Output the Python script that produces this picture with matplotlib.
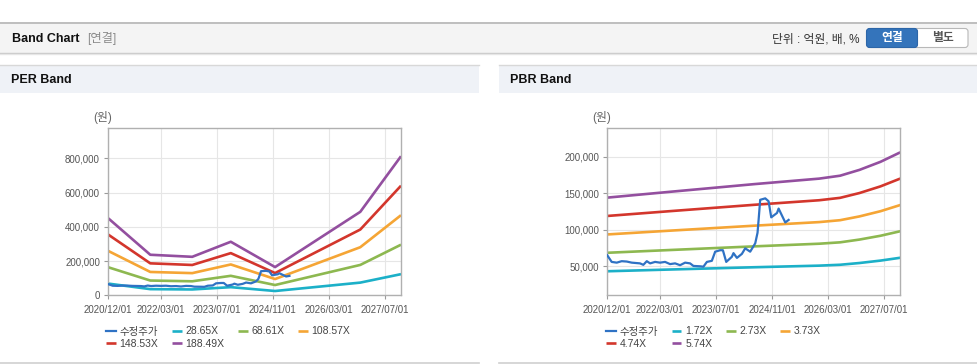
import matplotlib
matplotlib.use('Agg')
import matplotlib.pyplot as plt
import matplotlib.dates as mdates
from matplotlib.patches import Rectangle, FancyBboxPatch
import pandas as pd

plt.rcParams['font.family'] = ['Liberation Sans', 'Noto Sans CJK KR', 'DejaVu Sans']

# ---------------- data ----------------
price_dates = ['2020-12-01', '2021-01-08', '2021-02-21', '2021-04-05', '2021-05-19', '2021-07-01',
               '2021-09-11', '2021-10-10', '2021-11-09', '2021-12-08', '2022-01-20', '2022-03-04',
               '2022-04-17', '2022-05-30', '2022-07-13', '2022-08-25', '2022-10-08', '2022-11-20',
               '2022-12-19', '2023-02-15', '2023-03-16', '2023-04-15', '2023-05-28', '2023-06-26',
               '2023-08-08', '2023-09-01', '2023-09-30', '2023-11-18', '2023-12-02', '2024-01-01',
               '2024-02-13', '2024-03-13', '2024-04-25', '2024-06-08', '2024-06-28', '2024-07-07',
               '2024-07-21', '2024-09-03', '2024-10-02', '2024-10-25', '2024-12-14', '2024-12-28',
               '2025-02-24', '2025-03-25']
price_values = [65000, 56000, 55000, 57000, 56500, 55000,
                54000, 52000, 57000, 54000, 56000, 55000,
                56000, 53000, 54000, 51500, 55000, 54000,
                50500, 50000, 49500, 56000, 57500, 70000,
                72000, 72000, 56000, 63000, 68000, 61500,
                67000, 74600, 70000, 81500, 96000, 113000,
                141000, 143000, 139000, 117000, 123000, 129000,
                110000, 113500]

per_dates = ['2020-12-01', '2021-12-01', '2022-12-01', '2023-11-01', '2024-11-20', '2026-12-01', '2027-11-20']
per_28_65 = [68400, 36000, 34200, 47600, 25100, 74200, 123600]
per_68_61 = [163800, 86300, 81900, 113900, 60100, 177600, 295900]
per_108_57 = [259200, 136500, 129600, 180300, 95000, 281100, 468300]
per_148_53 = [354600, 186800, 177300, 246600, 130000, 384500, 640600]
per_188_49 = [450000, 237000, 225000, 313000, 165000, 488000, 813000]
per_labels = ['28.65X', '68.61X', '108.57X', '148.53X', '188.49X']

pbr_dates = ['2020-12-01', '2022-06-01', '2024-06-01', '2025-12-15', '2026-06-15', '2026-12-01', '2027-06-01', '2027-11-20']
pbr_1_72 = [43200, 45600, 48700, 50900, 52100, 54500, 57800, 61700]
pbr_2_73 = [68500, 72300, 77300, 80900, 82800, 86600, 91800, 98000]
pbr_3_73 = [93600, 98800, 105600, 110500, 113100, 118300, 125400, 133900]
pbr_4_74 = [118900, 125500, 134200, 140400, 143700, 150300, 159400, 170100]
pbr_5_74 = [144000, 152000, 162500, 170000, 174000, 182000, 193000, 206000]
pbr_labels = ['1.72X', '2.73X', '3.73X', '4.74X', '5.74X']

tick_dates = ['2020-12-01', '2022-03-01', '2023-07-01', '2024-11-01', '2026-03-01', '2027-07-01']
tick_labels = ['2020/12/01', '2022/03/01', '2023/07/01', '2024/11/01', '2026/03/01', '2027/07/01']

per_yticks = [0, 200000, 400000, 600000, 800000]
pbr_yticks = [50000, 100000, 150000, 200000]

price_label = '수정주가'
price_color = '#2f72c4'
band_colors = ['#1cb0c8', '#8db850', '#f5a535', '#d3362c', '#934f9f']

# ---------------- figure ----------------
W, H = 978, 364
fig = plt.figure(figsize=(W / 100, H / 100), dpi=100)
fig.patch.set_facecolor('white')

ov = fig.add_axes([0, 0, 1, 1], zorder=0)
ov.set_xlim(0, W)
ov.set_ylim(H, 0)
ov.axis('off')

# top header band
ov.add_patch(Rectangle((0, 22), W, 31, facecolor='#f4f4f4', edgecolor='none'))
ov.plot([0, W], [22.5, 22.5], color='#b5b5b5', lw=1.2)
ov.plot([0, W], [53, 53], color='#c8c8c8', lw=1.0)
ov.plot([0, W], [54.2, 54.2], color='#e6e6e6', lw=1.0)
ov.text(12, 38.5, 'Band Chart', fontsize=9, fontweight='bold', color='#111111', va='center', ha='left')
ov.text(87, 38.5, '[연결]', fontsize=8.8, color='#8a8a8a', va='center', ha='left')
ov.text(859, 39, '단위 : 억원, 배, %', fontsize=8.5, color='#333333', va='center', ha='right')
ov.add_patch(FancyBboxPatch((868, 28.5), 100, 19, boxstyle='round,pad=0,rounding_size=3',
                            facecolor='white', edgecolor='#b8b8b8', lw=0.8))
ov.add_patch(FancyBboxPatch((866.5, 28.5), 51, 19, boxstyle='round,pad=0,rounding_size=3',
                            facecolor='#3474bb', edgecolor='#2d66a8', lw=0.8))
ov.text(892, 38.5, '연결', fontsize=8.5, fontweight='bold', color='white', va='center', ha='center')
ov.text(943, 38.5, '별도', fontsize=8.5, fontweight='bold', color='#555555', va='center', ha='center')

# panel headers
for x0, x1, title in [(0, 479, 'PER Band'), (499, W, 'PBR Band')]:
    ov.add_patch(Rectangle((x0, 64.5), x1 - x0, 28.5, facecolor='#eff2f7', edgecolor='none'))
    ov.plot([x0, x1], [64.5, 64.5], color='#d8d8d8', lw=1.0)
    ov.text(x0 + 11, 80, title, fontsize=9, fontweight='bold', color='#111111', va='center', ha='left')
    ov.plot([x0, x1], [362.5, 362.5], color='#cfcfcf', lw=1.2)


def style_axis(ax, yticks, ylim):
    ax.set_xlim(pd.Timestamp('2020-12-01'), pd.Timestamp('2027-11-20'))
    ax.set_ylim(*ylim)
    ax.set_xticks(pd.to_datetime(tick_dates))
    ax.set_xticklabels(tick_labels)
    ax.set_yticks(yticks)
    ax.set_yticklabels(['{:,}'.format(v) for v in yticks])
    ax.grid(True, color='#e6e6e6', lw=0.8)
    ax.set_axisbelow(True)
    for s in ax.spines.values():
        s.set_color('#b0b0b0')
        s.set_linewidth(1.0)
    ax.tick_params(axis='both', labelsize=7, labelcolor='#555555', color='#9a9a9a',
                   length=3, width=0.8)
    ax.tick_params(axis='x', pad=4)
    ax.tick_params(axis='y', pad=3)


def add_legend(ax, handles, labels, x_px):
    # reorder for row-major layout with ncol=4
    order = [0, 4, 1, 5, 2, 3]
    ax.legend([handles[i] for i in order], [labels[i] for i in order], ncol=4,
              loc='upper left', bbox_to_anchor=(x_px / W, 1 - 326.5 / H),
              bbox_transform=fig.transFigure, frameon=False, fontsize=7.5,
              handlelength=0.95, handletextpad=0.35, columnspacing=1.3,
              labelspacing=0.2, borderpad=0, borderaxespad=0, labelcolor='#444444')


# PER panel
ax1 = fig.add_axes([108.3 / W, 1 - 295.3 / H, 292.7 / W, 167.3 / H], zorder=1)
style_axis(ax1, per_yticks, (0, 978000))
handles = []
pdates = pd.to_datetime(per_dates)
for vals, c in zip([per_28_65, per_68_61, per_108_57, per_148_53, per_188_49], band_colors):
    h, = ax1.plot(pdates, vals, color=c, lw=1.9, solid_capstyle='butt')
    handles.append(h)
hp, = ax1.plot(pd.to_datetime(price_dates), price_values, color=price_color, lw=1.6, zorder=5)
handles.insert(0, hp)
ax1.text(-0.018, 1.06, '(원)', transform=ax1.transAxes, fontsize=8.5, color='#666666',
         ha='center', va='center')
add_legend(ax1, handles, [price_label] + per_labels, 106)

# PBR panel
ax2 = fig.add_axes([607.3 / W, 1 - 295.3 / H, 293.0 / W, 167.3 / H], zorder=1)
style_axis(ax2, pbr_yticks, (10300, 239300))
handles = []
bdates = pd.to_datetime(pbr_dates)
for vals, c in zip([pbr_1_72, pbr_2_73, pbr_3_73, pbr_4_74, pbr_5_74], band_colors):
    h, = ax2.plot(bdates, vals, color=c, lw=1.9, solid_capstyle='butt')
    handles.append(h)
hp, = ax2.plot(pd.to_datetime(price_dates), price_values, color=price_color, lw=1.6, zorder=5)
handles.insert(0, hp)
ax2.text(-0.018, 1.06, '(원)', transform=ax2.transAxes, fontsize=8.5, color='#666666',
         ha='center', va='center')
add_legend(ax2, handles, [price_label] + pbr_labels, 606)

fig.savefig('out.png', dpi=100)
